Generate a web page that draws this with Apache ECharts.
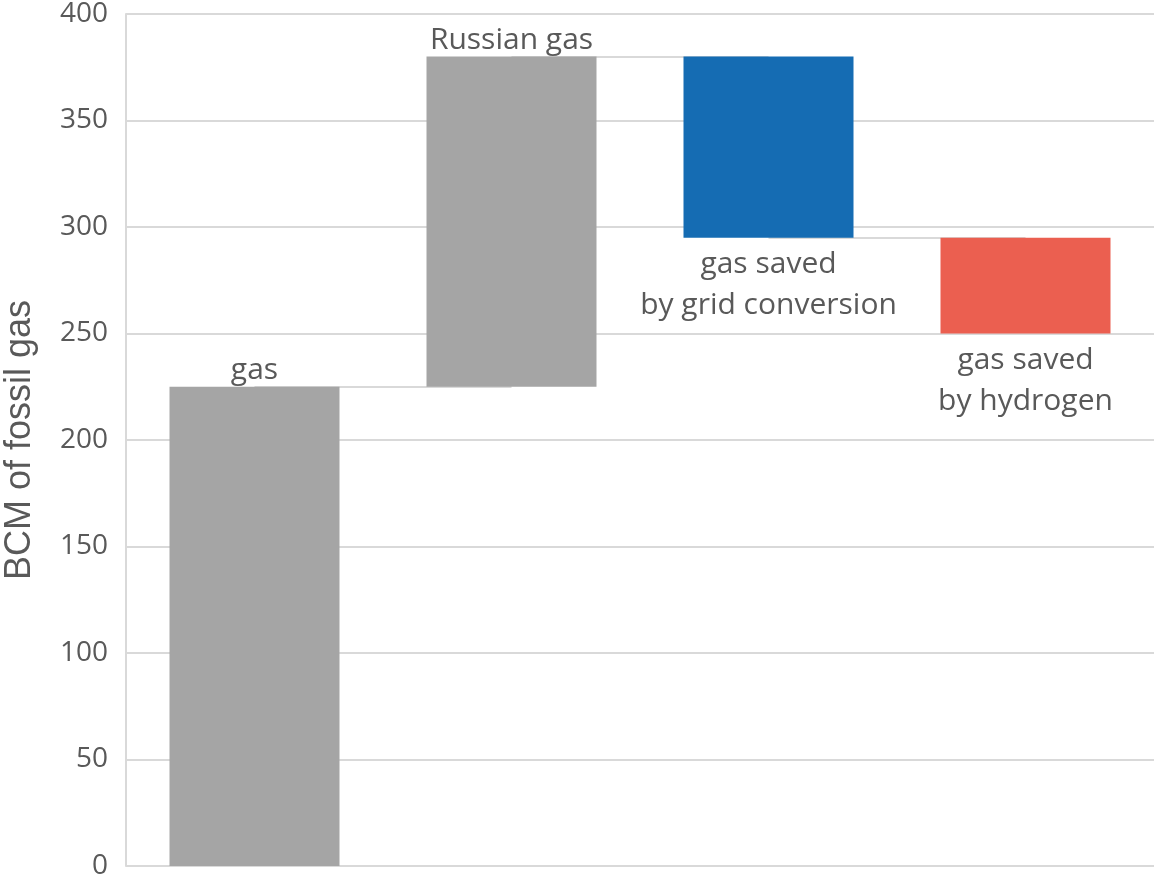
<!DOCTYPE html>
<html>
<head>
<meta charset="utf-8">
<script src="https://cdn.jsdelivr.net/npm/echarts@6/dist/echarts.min.js"></script>
<style>
  html, body { margin: 0; padding: 0; background: #fff; }
  #chart { width: 1159px; height: 880px; }
</style>
</head>
<body>
<div id="chart"></div>
<script>
// waterfall: each step has a start (base) and an end level
var categories = ['gas', 'Russian gas', 'gas saved\nby grid conversion', 'gas saved\nby hydrogen'];
var stepStart = [0, 225, 380, 295];
var stepEnd = [225, 380, 295, 250];
var barColors = ['#A5A5A5', '#A5A5A5', '#156CB3', '#EB5F50'];
var labelPos = ['top', 'top', 'bottom', 'bottom'];
var yTicks = { min: 0, max: 400, interval: 50 };

var baseData = [];
var sizeData = [];
for (var i = 0; i < categories.length; i++) {
	baseData.push(Math.min(stepStart[i], stepEnd[i]));
	sizeData.push({
		value: Math.abs(stepEnd[i] - stepStart[i]),
		itemStyle: { color: barColors[i] },
		label: {
			position: labelPos[i],
			distance: labelPos[i] == 'top' ? -4 : 6
		}
	});
}

// connector lines between consecutive bars
var connectors = [];
for (var j = 0; j < categories.length - 1; j++) {
	connectors.push([{ coord: [j, stepEnd[j]] }, { coord: [j + 1, stepEnd[j]] }]);
}

var myChart = echarts.init(document.getElementById('chart'));

myChart.setOption({
	animation: false,
	grid: { left: 126, right: 5, top: 14, bottom: 14, outerBoundsMode: 'none', containLabel: false },
	xAxis: {
		type: 'category',
		data: categories,
		axisLine: { show: false },
		axisTick: { show: false },
		axisLabel: { show: false }
	},
	yAxis: {
		type: 'value',
		min: yTicks.min,
		max: yTicks.max,
		interval: yTicks.interval,
		name: 'BCM of fossil gas',
		nameLocation: 'middle',
		nameGap: 88,
		nameTextStyle: { fontFamily: 'Liberation Sans', fontSize: 36, color: '#595959' },
		axisLine: { show: true, lineStyle: { color: '#D9D9D9', width: 2 } },
		axisTick: { show: false },
		axisLabel: { fontFamily: 'Open Sans', fontSize: 28, color: '#595959', margin: 18 },
		splitLine: { lineStyle: { color: '#D9D9D9', width: 2 } }
	},
	series: [
		{
			name: 'base',
			type: 'bar',
			stack: 'wf',
			z: 1,
			barWidth: 170,
			itemStyle: { color: 'transparent' },
			data: baseData,
			markLine: {
				z: 1,
				silent: true,
				symbol: 'none',
				label: { show: false },
				lineStyle: { color: '#D9D9D9', width: 2, type: 'solid' },
				data: connectors
			}
		},
		{
			name: 'step',
			type: 'bar',
			stack: 'wf',
			z: 3,
			barWidth: 170,
			label: {
				show: true,
				formatter: function (p) { return categories[p.dataIndex]; },
				fontFamily: 'Open Sans',
				fontSize: 30,
				lineHeight: 41,
				color: '#595959'
			},
			data: sizeData
		}
	]
});
</script>
</body>
</html>
